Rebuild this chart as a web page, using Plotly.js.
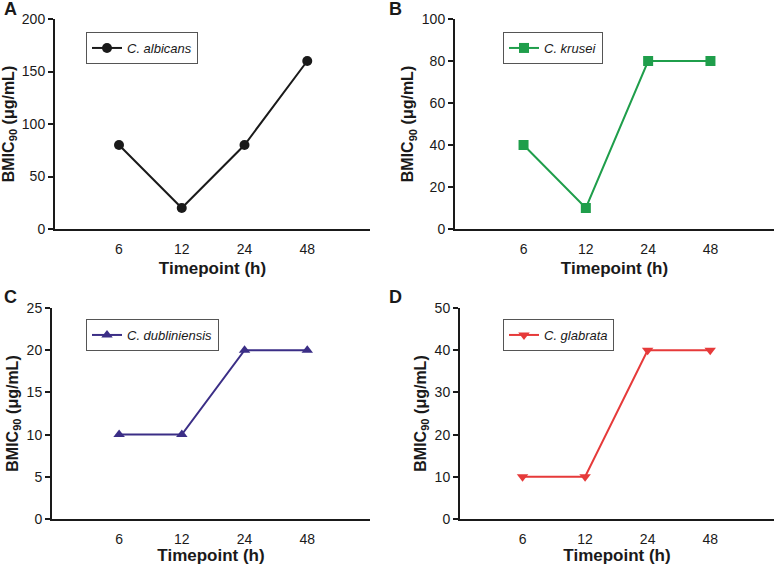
<!DOCTYPE html>
<html>
<head>
<meta charset="utf-8">
<script src="https://cdn.plot.ly/plotly-3.0.1.min.js"></script>
<style>html,body{margin:0;padding:0;background:#fff;}#chart{width:774px;height:565px;}</style>
</head>
<body>
<div id="chart"></div>
<script>
const timepoints = ['6', '12', '24', '48'];
const albicans = [80, 20, 80, 160];
const krusei = [40, 10, 80, 80];
const dubliniensis = [10, 10, 20, 20];
const glabrata = [10, 10, 40, 40];
const seriesNames = ['C. albicans', 'C. krusei', 'C. dubliniensis', 'C. glabrata'];
const panelLetters = ['A', 'B', 'C', 'D'];
const yMax = [200, 100, 25, 50];
const yStep = [50, 20, 5, 10];

const W = 774, H = 565;
const px = v => v / W;
const py = v => 1 - v / H;

const colors = ['#1a1a1a', '#1f9e4b', '#3b2e86', '#e63a3a'];
const symbols = ['circle', 'square', 'triangle-up', 'triangle-down'];
const values = [albicans, krusei, dubliniensis, glabrata];

const xDom = [[px(55), px(370)], [px(455), 1], [px(52), px(370)], [px(460), 1]];
const yDom = [[py(229), py(19)], [py(229), py(19)], [py(519), py(308)], [py(519), py(308)]];
const xRange = [[-1.02, 4.0], [-1.1, 4.02], [-1.07, 4.0], [-1.0, 4.02]];
const legPos = [[px(86), py(32)], [px(503), py(32)], [px(86), py(319)], [px(503), py(319)]];
const letterPos = [[10, 9], [395, 9], [10, 297], [395, 297]];

const font = 'Liberation Sans, Arial, sans-serif';
const traces = [];
const layout = {
  width: W, height: H,
  margin: {l: 0, r: 0, t: 0, b: 0},
  paper_bgcolor: '#ffffff', plot_bgcolor: '#ffffff',
  font: {family: font, color: '#1a1a1a', size: 14},
  showlegend: true,
  annotations: []
};

for (let i = 0; i < 4; i++) {
  const sfx = i === 0 ? '' : String(i + 1);
  traces.push({
    type: 'scatter', mode: 'lines+markers',
    x: timepoints, y: values[i],
    name: '<i>' + seriesNames[i] + '</i>',
    xaxis: 'x' + sfx, yaxis: 'y' + sfx,
    legend: 'legend' + sfx,
    line: {color: colors[i], width: 2},
    marker: {color: colors[i], symbol: symbols[i], size: 10}
  });
  layout['xaxis' + sfx] = {
    domain: xDom[i], anchor: 'y' + sfx, type: 'category',
    range: xRange[i], showgrid: false, zeroline: false,
    showline: true, linecolor: '#1a1a1a', linewidth: 2,
    ticks: 'outside', ticklen: 6, tickcolor: 'rgba(0,0,0,0)',
    tickfont: {size: 14, color: '#1a1a1a'},
    title: {text: '<b>Timepoint (h)</b>', font: {size: 17, color: '#1a1a1a'}, standoff: 6},
    fixedrange: true
  };
  layout['yaxis' + sfx] = {
    domain: yDom[i], anchor: 'x' + sfx,
    range: [0, yMax[i]], dtick: yStep[i], tick0: 0,
    showgrid: false, zeroline: false,
    showline: true, linecolor: '#1a1a1a', linewidth: 2,
    ticks: 'outside', ticklen: 5, tickwidth: 2, tickcolor: '#1a1a1a',
    tickfont: {size: 14, color: '#1a1a1a'},
    title: {text: '<b>BMIC<sub>90</sub> (μg/mL)</b>', font: {size: 16, color: '#1a1a1a'}, standoff: 4},
    fixedrange: true
  };
  layout['legend' + sfx] = {
    x: legPos[i][0], y: legPos[i][1], xanchor: 'left', yanchor: 'top',
    xref: 'paper', yref: 'paper',
    bgcolor: '#ffffff', bordercolor: '#555555', borderwidth: 1,
    font: {size: 13, color: '#1a1a1a'},
    itemwidth: 30, tracegroupgap: 0
  };
  layout.annotations.push({
    xref: 'paper', yref: 'paper', x: px(letterPos[i][0]), y: py(letterPos[i][1]),
    xanchor: 'center', yanchor: 'middle', showarrow: false,
    text: '<b>' + panelLetters[i] + '</b>', font: {size: 18, color: '#1a1a1a'}
  });
}

Plotly.newPlot('chart', traces, layout, {displayModeBar: false, staticPlot: true});
</script>
</body>
</html>
